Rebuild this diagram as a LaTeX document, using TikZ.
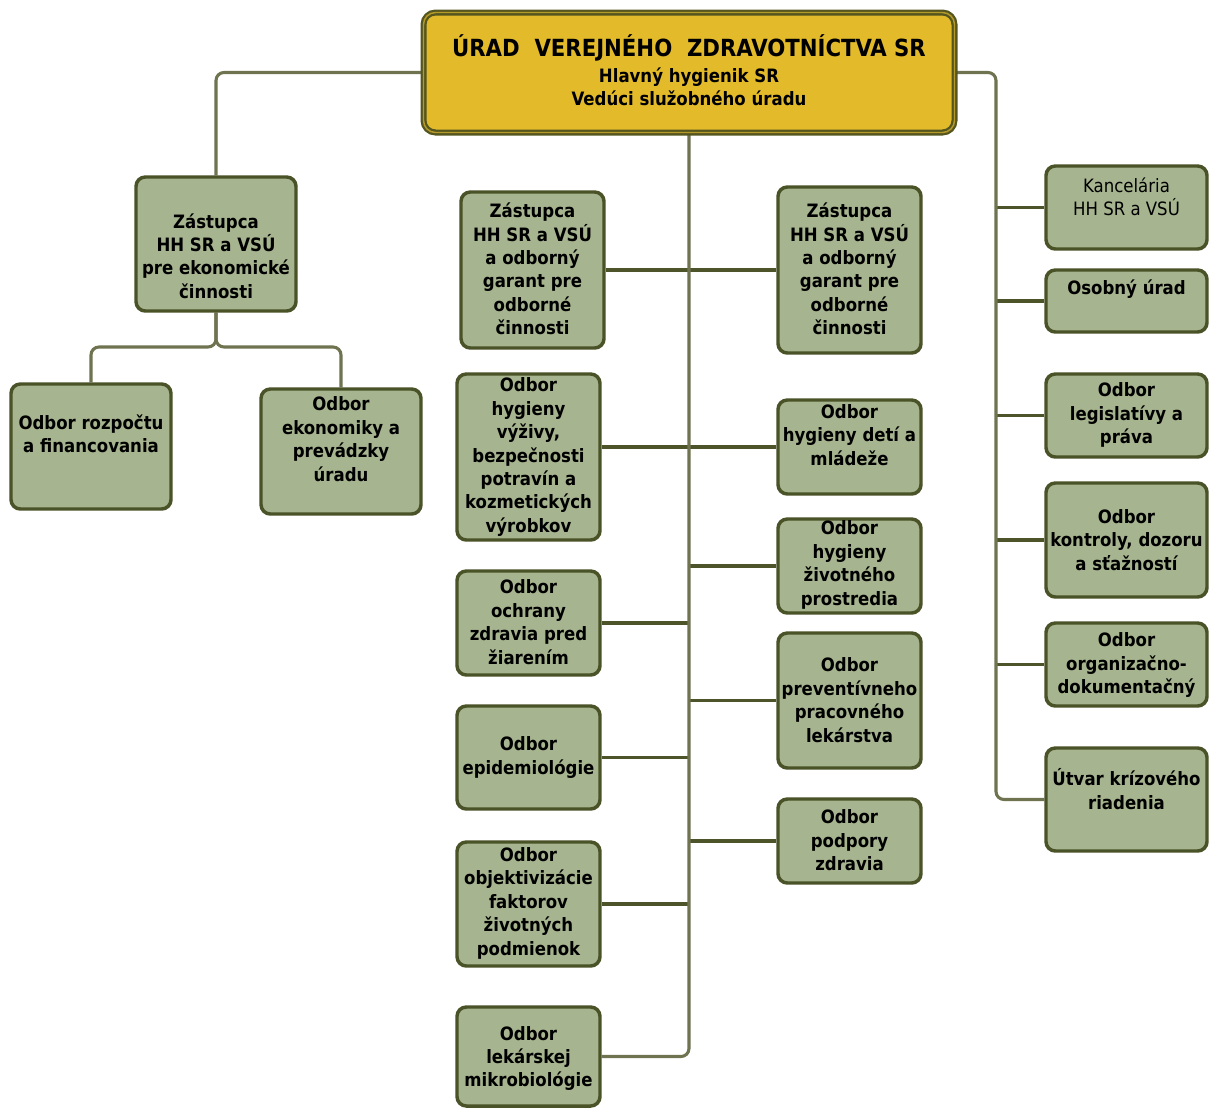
\documentclass[tikz,border=0pt]{standalone}
\usepackage{fontspec}
\usetikzlibrary{backgrounds}
\setmainfont{DejaVu Sans Condensed}[BoldFont={DejaVu Sans Condensed Bold}]
\definecolor{boxfill}{HTML}{A6B48F}
\definecolor{boxline}{HTML}{4A5228}
\definecolor{connclr}{HTML}{6F7350}
\definecolor{branchclr}{HTML}{4D5429}
\definecolor{gold}{HTML}{E3BA2A}
\definecolor{topline}{HTML}{55561F}
\definecolor{topmid}{HTML}{B59A2A}
\tikzset{
  box/.style={draw=boxline, fill=boxfill, line width=2.6pt, rounded corners=7pt},
  txt/.style={align=center, inner sep=0pt, font=\fontsize{13.8}{17.6}\selectfont\bfseries},
  txtreg/.style={align=center, inner sep=0pt, font=\fontsize{13.8}{17.6}\selectfont},
  conn/.style={draw=connclr, line width=2.3pt, rounded corners=6pt},
  branch/.style={draw=branchclr, line width=2.4pt},
  topbox/.style={draw=topline, line width=1.7pt, double=topmid, double distance=1.1pt, fill=gold, rounded corners=9pt},
}
\newcommand\obox[8][txt]{%
  \node[box, minimum width={(#5-#3)*0.75pt}, minimum height={(#6-#4)*0.75pt}] (#2) at ({(#3+#5)/2},{(#4+#6)/2}) {};
  \node[#1] (#2t) at ({(#3+#5)/2},#7) {#8};}
\begin{document}
\begin{tikzpicture}[x=0.75pt,y=-0.75pt]
\useasboundingbox (0,0) rectangle (1211,1108);
% top box
\node[topbox, minimum width={531*0.75pt}, minimum height={120*0.75pt}] (top) at (689,72.5) {};
\node[inner sep=0pt, font=\fontsize{17.7}{21}\selectfont\bfseries] (title) at (689,48) {ÚRAD\ \ VEREJNÉHO\ \ ZDRAVOTNÍCTVA SR};
\node[txt] (sub) at (689,86.5) {Hlavný hygienik SR\\Vedúci služobného úradu};
% left group
\obox{z1}{136}{177}{296}{311}{256}{Zástupca\\ HH SR a VSÚ\\pre ekonomické\\činnosti}
\obox{r1}{11}{384}{171}{509}{434}{Odbor rozpočtu\\a financovania}
\obox{r2}{261}{389}{421}{514}{439}{Odbor\\ekonomiky a\\prevádzky\\úradu}
% middle left column
\obox{za}{461}{192}{604}{348}{269}{Zástupca\\ HH SR a VSÚ\\a odborný\\garant pre\\odborné\\činnosti}
\obox{hv}{457}{374}{600}{540}{457}{Odbor\\hygieny\\výživy,\\bezpečnosti\\potravín a\\kozmetických\\výrobkov}
\obox{oz}{457}{571}{600}{675}{622}{Odbor\\ochrany\\zdravia pred\\žiarením}
\obox{ep}{457}{706}{600}{809}{757.5}{Odbor\\epidemiológie}
\obox{of}{457}{842}{600}{966}{903}{Odbor\\objektivizácie\\faktorov\\životných\\podmienok}
\obox{lm}{457}{1007}{600}{1106}{1058.5}{Odbor\\lekárskej\\mikrobiológie}
% middle right column
\obox{zb}{778}{187}{921}{353}{269}{Zástupca\\ HH SR a VSÚ\\a odborný\\garant pre\\odborné\\činnosti}
\obox{hd}{778}{400}{921}{494}{435}{Odbor\\hygieny detí a\\mládeže}
\obox{hz}{778}{519}{921}{613}{565}{Odbor\\hygieny\\životného\\prostredia}
\obox{pp}{778}{633}{921}{768}{700}{Odbor\\preventívneho\\pracovného\\lekárstva}
\obox{pz}{778}{799}{921}{883}{840.5}{Odbor\\podpory\\zdravia}
% right column
\obox[txtreg]{ka}{1046}{166}{1207}{249}{196.5}{Kancelária\\HH SR a VSÚ}
\obox{ou}{1046}{270}{1207}{332}{289}{Osobný úrad}
\obox{lp}{1046}{374}{1207}{457}{415}{Odbor\\legislatívy a\\práva}
\obox{kd}{1046}{483}{1207}{597}{540}{Odbor\\kontroly, dozoru\\a sťažností}
\obox{od}{1046}{623}{1207}{706}{665}{Odbor\\organizačno-\\dokumentačný}
\obox{uk}{1046}{748}{1207}{851}{789}{Útvar krízového\\riadenia}
% connectors
\begin{scope}[on background layer]
  % left branch
  \draw[conn] (top.west) -| (z1.north);
  \coordinate (split) at (216,347);
  \draw[conn] (z1.south) -- (split) -| (r1.north);
  \draw[conn] (z1.south) -- (split) -| (r2.north);
  % central trunk
  \draw[branch] (za.east) -- (zb.west);
  \draw[branch] (hd.west -| hv.east) -- (hd.west);
  \draw[branch] (oz.east) -- (oz.east -| top.south);
  \draw[branch] (ep.east) -- (ep.east -| top.south);
  \draw[branch] (of.east) -- (of.east -| top.south);
  \draw[branch] (hz.west) -- (hz.west -| top.south);
  \draw[branch] (pp.west) -- (pp.west -| top.south);
  \draw[branch] (pz.west) -- (pz.west -| top.south);
  \draw[conn] (top.south) -- (top.south |- lm.east) -- (lm.east);
  % right trunk
  \coordinate (rb) at (996,799.5);
  \draw[branch] (ka.west) -- (ka.west -| rb);
  \draw[branch] (ou.west) -- (ou.west -| rb);
  \draw[branch] (lp.west) -- (lp.west -| rb);
  \draw[branch] (kd.west) -- (kd.west -| rb);
  \draw[branch] (od.west) -- (od.west -| rb);
  \draw[conn] (top.east) -| (rb) -- (uk.west);
\end{scope}
\end{tikzpicture}
\end{document}
